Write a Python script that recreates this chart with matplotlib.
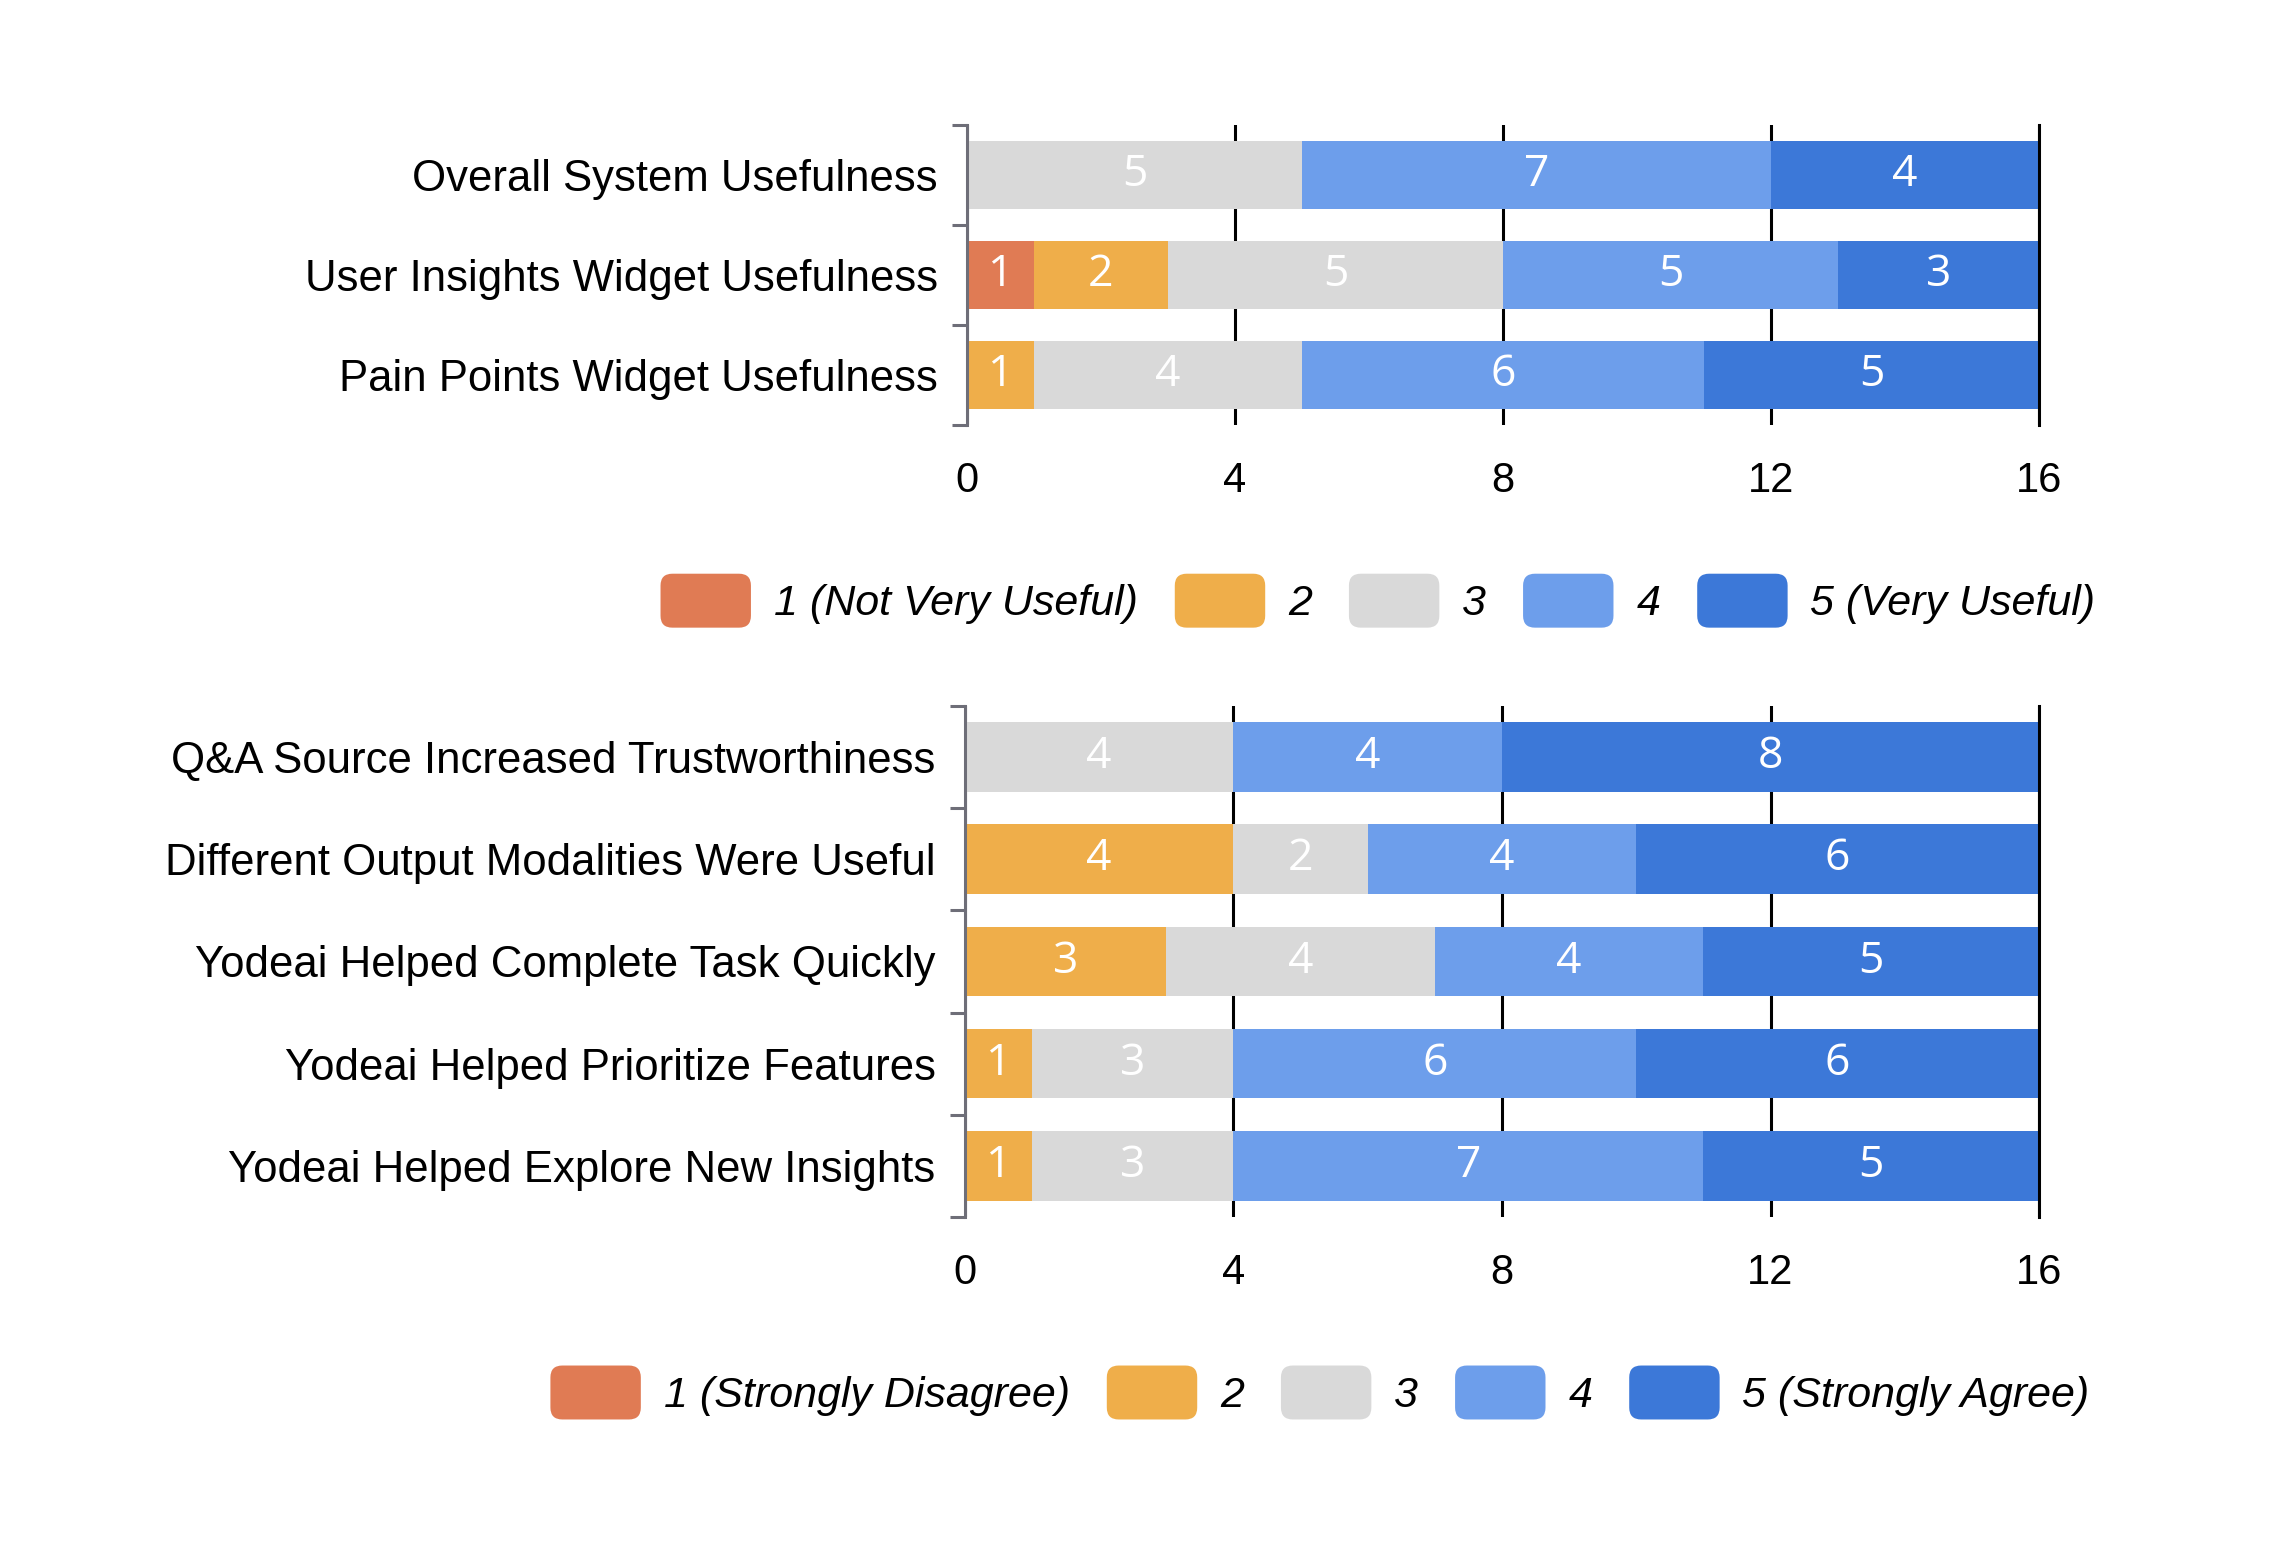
import matplotlib
matplotlib.use("Agg")
import matplotlib.pyplot as plt
import numpy as np
from matplotlib.legend_handler import HandlerPatch
from matplotlib.patches import FancyBboxPatch, Patch

plt.rcParams['font.family'] = ['Liberation Sans', 'DejaVu Sans']

# ---- data ----
top_categories = ["Overall System Usefulness",
                  "User Insights Widget Usefulness",
                  "Pain Points Widget Usefulness"]
top_r1 = [0, 1, 0]
top_r2 = [0, 2, 1]
top_r3 = [5, 5, 4]
top_r4 = [7, 5, 6]
top_r5 = [4, 3, 5]
top_legend = ["1 (Not Very Useful)", "2", "3", "4", "5 (Very Useful)"]

bot_categories = ["Q&A Source Increased Trustworthiness",
                  "Different Output Modalities Were Useful",
                  "Yodeai Helped Complete Task Quickly",
                  "Yodeai Helped Prioritize Features",
                  "Yodeai Helped Explore New Insights"]
bot_r1 = [0, 0, 0, 0, 0]
bot_r2 = [0, 4, 3, 1, 1]
bot_r3 = [4, 2, 4, 3, 3]
bot_r4 = [4, 4, 4, 6, 7]
bot_r5 = [8, 6, 5, 6, 5]
bot_legend = ["1 (Strongly Disagree)", "2", "3", "4", "5 (Strongly Agree)"]

x_ticks = [0, 4, 8, 12, 16]

colors = ["#E07B54", "#EFAE4A", "#D9D9D9", "#6D9EEB", "#3C78D8"]

LABEL_FS = 31.5
TICK_FS = 30
LEG_FS = 31
VAL_FS = 32


class RoundHandler(HandlerPatch):
    def create_artists(self, legend, orig_handle, xdescent, ydescent,
                       width, height, fontsize, trans):
        h = height * 1.4
        p = FancyBboxPatch((-xdescent, -ydescent - (h - height) / 2), width, h,
                           boxstyle=f"round,pad=0,rounding_size={h * 0.22}",
                           facecolor=orig_handle.get_facecolor(),
                           edgecolor='none', transform=trans)
        return [p]


def draw(ax, cats, series):
    n = len(cats)
    y = np.arange(n)
    left = np.zeros(n)
    for vals, col in zip(series, colors):
        vals = np.array(vals, dtype=float)
        bars = ax.barh(y, vals, left=left, height=0.68, color=col,
                       edgecolor='none', linewidth=0, zorder=3)
        for b, v in zip(bars, vals):
            if v > 0:
                ax.text(b.get_x() + b.get_width() / 2, b.get_y() + b.get_height() / 2,
                        f"{int(v)}", ha='center', va='center', color='white',
                        fontsize=VAL_FS, family=['Open Sans', 'DejaVu Sans'], zorder=4)
        left += vals
    ax.set_xlim(0, 16)
    ax.set_ylim(n - 0.5, -0.5)
    ax.set_yticks(y)
    ax.set_yticklabels(cats, fontsize=LABEL_FS)
    ax.set_yticks(np.arange(n + 1) - 0.5, minor=True)
    ax.set_xticks(x_ticks)
    ax.set_xticklabels([str(t) for t in x_ticks], fontsize=TICK_FS)
    ax.tick_params(axis='y', which='major', length=0, pad=21)
    ax.tick_params(axis='y', which='minor', length=11, width=2.2, color='#6E6E78', direction='out')
    ax.tick_params(axis='y', which='both', right=False)
    ax.tick_params(axis='x', which='major', length=0, pad=26)
    for s in ['top', 'bottom']:
        ax.spines[s].set_visible(False)
    ax.spines['right'].set_color('black')
    ax.spines['right'].set_linewidth(2.2)
    ax.spines['right'].set_zorder(5)
    ax.spines['left'].set_color('#6E6E78')
    ax.spines['left'].set_linewidth(2.2)
    ax.spines['left'].set_zorder(5)
    ax.xaxis.grid(True, color='black', linewidth=2.2, zorder=0)
    ax.set_axisbelow(True)


fig = plt.figure(figsize=(22.74, 15.42), dpi=100)
ax1 = fig.add_axes([0.4252, 0.7244, 0.4715, 0.1945])
ax2 = fig.add_axes([0.4243, 0.2108, 0.4724, 0.3314])

draw(ax1, top_categories, [top_r1, top_r2, top_r3, top_r4, top_r5])
draw(ax2, bot_categories, [bot_r1, bot_r2, bot_r3, bot_r4, bot_r5])

for labels, anchor in [(top_legend, (0.606, 0.609)), (bot_legend, (0.5805, 0.0955))]:
    handles = [Patch(facecolor=c) for c in colors]
    fig.legend(handles, labels, loc='center', bbox_to_anchor=anchor, ncol=5,
               frameon=False, prop={'size': LEG_FS, 'style': 'italic'},
               handlelength=2.1, handleheight=1.0, handletextpad=0.53,
               columnspacing=0.86, borderpad=0,
               handler_map={Patch: RoundHandler()})

fig.savefig("out.png", dpi=100, facecolor='white')
